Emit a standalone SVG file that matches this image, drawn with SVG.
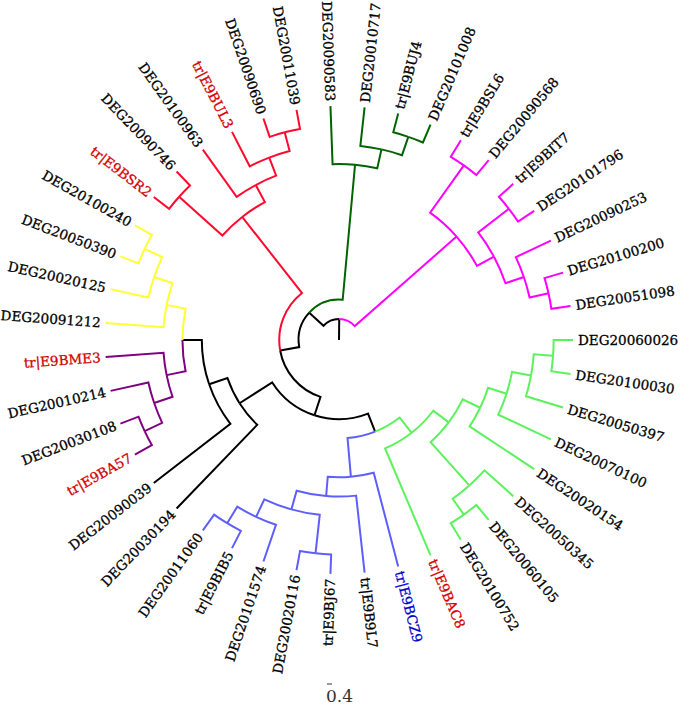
<svg xmlns="http://www.w3.org/2000/svg" width="680" height="704" viewBox="0 0 680 704">
<style>
.e{fill:none;stroke-width:2;stroke-linecap:butt;stroke-linejoin:miter}
.k{stroke:#000}.rd{stroke:#ff0a2e}.dg{stroke:#006400}.mg{stroke:#ff00ff}.lg{stroke:#5cf25c}.bl{stroke:#5e5eff}.pu{stroke:#800080}.ye{stroke:#ffff33}
.t{font-family:"DejaVu Serif","Liberation Serif",serif;font-size:13.5px;fill:#000;stroke:#000;stroke-width:0.3}
.a{text-anchor:end}
.r{fill:#d40000;stroke:#d40000}.b{fill:#0000cc;stroke:#0000cc}
</style>
<rect width="680" height="704" fill="#fff"/>
<g id="connectors">
<path class="e k" d="M339 340L339.23 318.96"/>
<path class="e k" d="M339.23 318.96A21.04 21.04 0 0 0 323.51 325.77L309.25 312.67"/>
<path class="e mg" d="M339.23 318.96A21.04 21.04 0 0 1 354.80 326.10L456.55 236.59"/>
<path class="e k" d="M309.25 312.67A40.4 40.4 0 0 0 299.22 347.08L280.16 350.47"/>
<path class="e dg" d="M309.25 312.67A40.4 40.4 0 0 1 342.68 299.77L355.04 164.81"/>
<path class="e k" d="M280.16 350.47A59.76 59.76 0 0 0 320.51 396.83L314.52 415.24"/>
<path class="e rd" d="M280.16 350.47A59.76 59.76 0 0 1 302.05 293.04L242.19 216.96"/>
<path class="e k" d="M314.52 415.24A79.12 79.12 0 0 0 368.02 413.61L375.12 431.62"/>
<path class="e k" d="M314.52 415.24A79.12 79.12 0 0 1 272.23 382.44L239.55 403.22"/>
<path class="e lg" d="M375.12 431.62A98.48 98.48 0 0 0 399.72 417.53L411.66 432.78"/>
<path class="e bl" d="M375.12 431.62A98.48 98.48 0 0 1 347.53 438.11L350.89 476.68"/>
<path class="e lg" d="M411.66 432.78A117.84 117.84 0 0 0 433.25 410.74L448.73 422.36"/>
<path class="e lg" d="M411.66 432.78A117.84 117.84 0 0 1 385.09 448.45L430.52 555.36"/>
<path class="e lg" d="M448.73 422.36A137.2 137.2 0 0 0 462.69 399.37L480.14 407.75"/>
<path class="e lg" d="M448.73 422.36A137.2 137.2 0 0 1 430.56 442.18L469.31 485.44"/>
<path class="e lg" d="M480.14 407.75A156.56 156.56 0 0 0 488.07 387.84L506.51 393.75"/>
<path class="e lg" d="M480.14 407.75A156.56 156.56 0 0 1 469.57 426.39L534.16 469.11"/>
<path class="e lg" d="M506.51 393.75A175.92 175.92 0 0 0 511.99 371.95L531.03 375.47"/>
<path class="e lg" d="M506.51 393.75A175.92 175.92 0 0 1 498.29 414.67L550.88 439.32"/>
<path class="e lg" d="M531.03 375.47A195.28 195.28 0 0 0 533.76 354.26L553.07 355.67"/>
<path class="e lg" d="M531.03 375.47A195.28 195.28 0 0 1 526.00 396.26L563.08 407.42"/>
<path class="e lg" d="M553.07 355.67A214.64 214.64 0 0 0 553.64 340L573 340"/>
<path class="e lg" d="M553.07 355.67A214.64 214.64 0 0 1 551.35 371.25L570.51 374.07"/>
<path class="e lg" d="M469.31 485.44A195.28 195.28 0 0 0 484.44 470.31L513.28 496.15"/>
<path class="e lg" d="M469.31 485.44A195.28 195.28 0 0 1 452.62 498.82L463.89 514.57"/>
<path class="e lg" d="M463.89 514.57A214.64 214.64 0 0 0 476.30 504.98L488.68 519.86"/>
<path class="e lg" d="M463.89 514.57A214.64 214.64 0 0 1 450.81 523.22L460.90 539.74"/>
<path class="e bl" d="M350.89 476.68A137.2 137.2 0 0 0 373.70 472.74L398.19 566.39"/>
<path class="e bl" d="M350.89 476.68A137.2 137.2 0 0 1 327.74 476.74L326.15 496.03"/>
<path class="e bl" d="M326.15 496.03A156.56 156.56 0 0 0 356.12 495.62L364.59 572.60"/>
<path class="e bl" d="M326.15 496.03A156.56 156.56 0 0 1 296.64 490.72L291.40 509.36"/>
<path class="e bl" d="M291.40 509.36A175.92 175.92 0 0 0 319.76 514.86L315.52 553.35"/>
<path class="e bl" d="M291.40 509.36A175.92 175.92 0 0 1 264.33 499.29L256.11 516.82"/>
<path class="e bl" d="M315.52 553.35A214.64 214.64 0 0 0 331.16 554.50L330.45 573.84"/>
<path class="e bl" d="M315.52 553.35A214.64 214.64 0 0 1 300.01 551.07L296.50 570.11"/>
<path class="e bl" d="M256.11 516.82A195.28 195.28 0 0 0 275.95 524.82L263.45 561.47"/>
<path class="e bl" d="M256.11 516.82A195.28 195.28 0 0 1 237.27 506.69L227.19 523.22"/>
<path class="e bl" d="M227.19 523.22A214.64 214.64 0 0 0 240.86 530.89L232.01 548.11"/>
<path class="e bl" d="M227.19 523.22A214.64 214.64 0 0 1 214.11 514.57L202.85 530.31"/>
<path class="e k" d="M239.55 403.22A117.84 117.84 0 0 0 257.21 424.83L176.59 508.46"/>
<path class="e k" d="M239.55 403.22A117.84 117.84 0 0 1 227.47 378.05L209.15 384.30"/>
<path class="e k" d="M209.15 384.30A137.2 137.2 0 0 0 230.41 423.85L153.79 483.01"/>
<path class="e k" d="M209.15 384.30A137.2 137.2 0 0 1 201.8 340L182.44 340"/>
<path class="e pu" d="M182.44 340A156.56 156.56 0 0 0 185.59 371.24L166.62 375.11"/>
<path class="e ye" d="M182.44 340A156.56 156.56 0 0 1 185.59 308.76L166.62 304.89"/>
<path class="e pu" d="M166.62 375.11A175.92 175.92 0 0 0 172.50 396.80L154.18 403.05"/>
<path class="e pu" d="M166.62 375.11A175.92 175.92 0 0 1 163.55 352.84L105.63 357.08"/>
<path class="e pu" d="M154.18 403.05A195.28 195.28 0 0 0 162.18 422.89L144.65 431.10"/>
<path class="e pu" d="M154.18 403.05A195.28 195.28 0 0 1 148.39 382.46L110.60 390.88"/>
<path class="e pu" d="M144.65 431.10A214.64 214.64 0 0 0 151.82 445.05L134.94 454.52"/>
<path class="e pu" d="M144.65 431.10A214.64 214.64 0 0 1 138.52 416.68L120.44 423.59"/>
<path class="e ye" d="M166.62 304.89A175.92 175.92 0 0 0 163.55 327.16L105.63 322.92"/>
<path class="e ye" d="M166.62 304.89A175.92 175.92 0 0 1 172.50 283.20L154.18 276.95"/>
<path class="e ye" d="M154.18 276.95A195.28 195.28 0 0 0 148.39 297.54L110.60 289.12"/>
<path class="e ye" d="M154.18 276.95A195.28 195.28 0 0 1 162.18 257.11L144.65 248.90"/>
<path class="e ye" d="M144.65 248.90A214.64 214.64 0 0 0 138.52 263.32L120.44 256.41"/>
<path class="e ye" d="M144.65 248.90A214.64 214.64 0 0 1 151.82 234.95L134.94 225.48"/>
<path class="e rd" d="M242.19 216.96A156.56 156.56 0 0 0 222.40 235.53L179.14 196.77"/>
<path class="e rd" d="M242.19 216.96A156.56 156.56 0 0 1 264.88 202.10L255.72 185.04"/>
<path class="e rd" d="M179.14 196.77A214.64 214.64 0 0 0 169.11 208.82L153.79 196.99"/>
<path class="e rd" d="M179.14 196.77A214.64 214.64 0 0 1 190.03 185.48L176.59 171.54"/>
<path class="e rd" d="M255.72 185.04A175.92 175.92 0 0 0 236.64 196.93L202.85 149.69"/>
<path class="e rd" d="M255.72 185.04A175.92 175.92 0 0 1 276.16 175.69L269.24 157.61"/>
<path class="e rd" d="M269.24 157.61A195.28 195.28 0 0 0 249.71 166.33L232.01 131.89"/>
<path class="e rd" d="M269.24 157.61A195.28 195.28 0 0 1 289.61 151.07L284.71 132.34"/>
<path class="e rd" d="M284.71 132.34A214.64 214.64 0 0 0 269.70 136.86L263.45 118.53"/>
<path class="e rd" d="M284.71 132.34A214.64 214.64 0 0 1 300.01 128.93L296.50 109.89"/>
<path class="e dg" d="M355.04 164.81A175.92 175.92 0 0 0 332.58 164.20L330.45 106.16"/>
<path class="e dg" d="M355.04 164.81A175.92 175.92 0 0 1 377.25 168.29L381.46 149.39"/>
<path class="e dg" d="M381.46 149.39A195.28 195.28 0 0 0 360.36 145.89L364.59 107.40"/>
<path class="e dg" d="M381.46 149.39A195.28 195.28 0 0 1 402.05 155.18L408.30 136.86"/>
<path class="e dg" d="M408.30 136.86A214.64 214.64 0 0 0 393.29 132.34L398.19 113.61"/>
<path class="e dg" d="M408.30 136.86A214.64 214.64 0 0 1 422.95 142.46L430.52 124.64"/>
<path class="e mg" d="M456.55 236.59A156.56 156.56 0 0 0 430.09 212.67L463.89 165.43"/>
<path class="e mg" d="M456.55 236.59A156.56 156.56 0 0 1 476.91 265.88L493.96 256.72"/>
<path class="e mg" d="M463.89 165.43A214.64 214.64 0 0 0 450.81 156.78L460.90 140.26"/>
<path class="e mg" d="M463.89 165.43A214.64 214.64 0 0 1 476.30 175.02L488.68 160.14"/>
<path class="e mg" d="M493.96 256.72A175.92 175.92 0 0 0 478.24 232.48L508.89 208.82"/>
<path class="e mg" d="M493.96 256.72A175.92 175.92 0 0 1 505.50 283.20L523.82 276.95"/>
<path class="e mg" d="M508.89 208.82A214.64 214.64 0 0 0 498.86 196.77L513.28 183.85"/>
<path class="e mg" d="M508.89 208.82A214.64 214.64 0 0 1 518.01 221.57L534.16 210.89"/>
<path class="e mg" d="M523.82 276.95A195.28 195.28 0 0 0 515.82 257.11L550.88 240.68"/>
<path class="e mg" d="M523.82 276.95A195.28 195.28 0 0 1 529.61 297.54L548.51 293.33"/>
<path class="e mg" d="M548.51 293.33A214.64 214.64 0 0 0 544.54 278.16L563.08 272.59"/>
<path class="e mg" d="M548.51 293.33A214.64 214.64 0 0 1 551.35 308.75L570.51 305.93"/>
</g>
<g id="tip-DEG20060026"><text class="t" dy=".35em" transform="translate(578,340) rotate(0)">DEG20060026</text></g>
<g id="tip-DEG20100030"><text class="t" dy=".35em" transform="translate(575.45,374.80) rotate(8.37)">DEG20100030</text></g>
<g id="tip-DEG20050397"><text class="t" dy=".35em" transform="translate(567.87,408.86) rotate(16.74)">DEG20050397</text></g>
<g id="tip-DEG20070100"><text class="t" dy=".35em" transform="translate(555.40,441.44) rotate(25.12)">DEG20070100</text></g>
<g id="tip-DEG20020154"><text class="t" dy=".35em" transform="translate(538.33,471.87) rotate(33.49)">DEG20020154</text></g>
<g id="tip-DEG20050345"><text class="t" dy=".35em" transform="translate(517.00,499.49) rotate(41.86)">DEG20050345</text></g>
<g id="tip-DEG20060105"><text class="t" dy=".35em" transform="translate(491.88,523.71) rotate(50.23)">DEG20060105</text></g>
<g id="tip-DEG20100752"><text class="t" dy=".35em" transform="translate(463.50,544.01) rotate(58.60)">DEG20100752</text></g>
<g id="tip-tr-E9BAC8"><text class="t r" dy=".35em" transform="translate(432.47,559.96) rotate(66.98)">tr|E9BAC8</text></g>
<g id="tip-tr-E9BCZ9"><text class="t b" dy=".35em" transform="translate(399.45,571.23) rotate(75.35)">tr|E9BCZ9</text></g>
<g id="tip-tr-E9B9L7"><text class="t" dy=".35em" transform="translate(365.14,577.57) rotate(83.72)">tr|E9B9L7</text></g>
<g id="tip-tr-E9BJ67"><text class="t a" dy=".35em" transform="translate(330.27,578.84) rotate(-87.91)">tr|E9BJ67</text></g>
<g id="tip-DEG20020116"><text class="t a" dy=".35em" transform="translate(295.59,575.03) rotate(-79.53)">DEG20020116</text></g>
<g id="tip-DEG20101574"><text class="t a" dy=".35em" transform="translate(261.83,566.20) rotate(-71.16)">DEG20101574</text></g>
<g id="tip-tr-E9BIB5"><text class="t a" dy=".35em" transform="translate(229.72,552.55) rotate(-62.79)">tr|E9BIB5</text></g>
<g id="tip-DEG20011060"><text class="t a" dy=".35em" transform="translate(199.94,534.38) rotate(-54.42)">DEG20011060</text></g>
<g id="tip-DEG20030194"><text class="t a" dy=".35em" transform="translate(173.12,512.06) rotate(-46.05)">DEG20030194</text></g>
<g id="tip-DEG20090039"><text class="t a" dy=".35em" transform="translate(149.83,486.07) rotate(-37.67)">DEG20090039</text></g>
<g id="tip-tr-E9BA57"><text class="t a r" dy=".35em" transform="translate(130.58,456.97) rotate(-29.30)">tr|E9BA57</text></g>
<g id="tip-DEG20030108"><text class="t a" dy=".35em" transform="translate(115.77,425.38) rotate(-20.93)">DEG20030108</text></g>
<g id="tip-DEG20010214"><text class="t a" dy=".35em" transform="translate(105.72,391.97) rotate(-12.56)">DEG20010214</text></g>
<g id="tip-tr-E9BME3"><text class="t a r" dy=".35em" transform="translate(100.64,357.45) rotate(-4.19)">tr|E9BME3</text></g>
<g id="tip-DEG20091212"><text class="t a" dy=".35em" transform="translate(100.64,322.55) rotate(4.19)">DEG20091212</text></g>
<g id="tip-DEG20020125"><text class="t a" dy=".35em" transform="translate(105.72,288.03) rotate(12.56)">DEG20020125</text></g>
<g id="tip-DEG20050390"><text class="t a" dy=".35em" transform="translate(115.77,254.62) rotate(20.93)">DEG20050390</text></g>
<g id="tip-DEG20100240"><text class="t a" dy=".35em" transform="translate(130.58,223.03) rotate(29.30)">DEG20100240</text></g>
<g id="tip-tr-E9BSR2"><text class="t a r" dy=".35em" transform="translate(149.83,193.93) rotate(37.67)">tr|E9BSR2</text></g>
<g id="tip-DEG20090746"><text class="t a" dy=".35em" transform="translate(173.12,167.94) rotate(46.05)">DEG20090746</text></g>
<g id="tip-DEG20100963"><text class="t a" dy=".35em" transform="translate(199.94,145.62) rotate(54.42)">DEG20100963</text></g>
<g id="tip-tr-E9BUL3"><text class="t a r" dy=".35em" transform="translate(229.72,127.45) rotate(62.79)">tr|E9BUL3</text></g>
<g id="tip-DEG20090690"><text class="t a" dy=".35em" transform="translate(261.83,113.80) rotate(71.16)">DEG20090690</text></g>
<g id="tip-DEG20011039"><text class="t a" dy=".35em" transform="translate(295.59,104.97) rotate(79.53)">DEG20011039</text></g>
<g id="tip-DEG20090583"><text class="t a" dy=".35em" transform="translate(330.27,101.16) rotate(87.91)">DEG20090583</text></g>
<g id="tip-DEG20010717"><text class="t" dy=".35em" transform="translate(365.14,102.43) rotate(-83.72)">DEG20010717</text></g>
<g id="tip-tr-E9BUJ4"><text class="t" dy=".35em" transform="translate(399.45,108.77) rotate(-75.35)">tr|E9BUJ4</text></g>
<g id="tip-DEG20101008"><text class="t" dy=".35em" transform="translate(432.47,120.04) rotate(-66.98)">DEG20101008</text></g>
<g id="tip-tr-E9BSL6"><text class="t" dy=".35em" transform="translate(463.50,135.99) rotate(-58.60)">tr|E9BSL6</text></g>
<g id="tip-DEG20090568"><text class="t" dy=".35em" transform="translate(491.88,156.29) rotate(-50.23)">DEG20090568</text></g>
<g id="tip-tr-E9BIT7"><text class="t" dy=".35em" transform="translate(517.00,180.51) rotate(-41.86)">tr|E9BIT7</text></g>
<g id="tip-DEG20101796"><text class="t" dy=".35em" transform="translate(538.33,208.13) rotate(-33.49)">DEG20101796</text></g>
<g id="tip-DEG20090253"><text class="t" dy=".35em" transform="translate(555.40,238.56) rotate(-25.12)">DEG20090253</text></g>
<g id="tip-DEG20100200"><text class="t" dy=".35em" transform="translate(567.87,271.14) rotate(-16.74)">DEG20100200</text></g>
<g id="tip-DEG20051098"><text class="t" dy=".35em" transform="translate(575.45,305.20) rotate(-8.37)">DEG20051098</text></g>
<g id="scale">
<line x1="327" y1="684" x2="332" y2="684" stroke="#333" stroke-width="1"/>
<text x="326" y="701.5" style="font-family:'DejaVu Serif','Liberation Serif',serif;font-size:17px;fill:#333">0.4</text>
</g>
</svg>
